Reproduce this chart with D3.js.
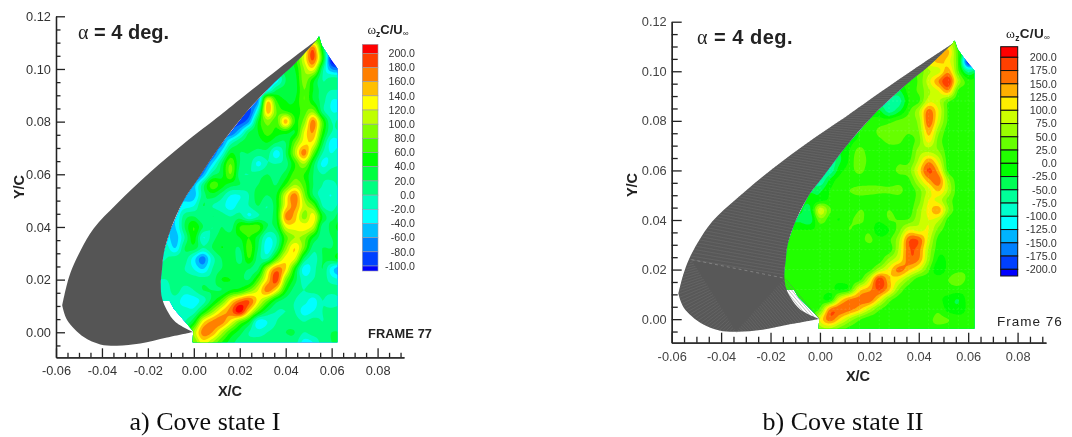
<!DOCTYPE html>
<html><head><meta charset="utf-8">
<script src="https://cdn.jsdelivr.net/npm/d3@7"></script>
<style>
html,body{margin:0;padding:0;background:#fff}
svg{display:block}
</style></head><body>
<svg id="c" width="1072" height="437" font-family="Liberation Sans"></svg>
<script>
// ---- colour levels
const levelsA = [-100,-80,-60,-40,-20,0,20,40,60,80,100,120,140,160,180,200];
const colorsA = ["#0000ff","#0040ff","#0080ff","#00bfff","#00ffff","#00ffbf","#00ff80","#00ff40","#00ff00","#40ff00","#80ff00","#bfff00","#ffff00","#ffbf00","#ff8000","#ff4000","#ff0000"];
const levelsB = [-200,-175,-150,-125,-100,-75,-50,-25,0,25,50,75,100,125,150,175,200];
const colorsB = ["#0000ff","#0040ff","#0080ff","#00b4ff","#00ffff","#00ffcc","#00ff99","#00ff55","#00ff00","#22ff00","#66ff00","#99ff00","#ccff00","#ffee00","#ffb000","#ff7000","#ff4000","#ff0000"];
// ---- axis ticks
const majorX = [-0.06,-0.04,-0.02,0,0.02,0.04,0.06,0.08];
const minorX = [-0.055,-0.05,-0.045,-0.035,-0.03,-0.025,-0.015,-0.01,-0.005,0.005,0.01,0.015,0.025,0.03,0.035,0.045,0.05,0.055,0.065,0.07,0.075,0.085,0.09];
const majorY = [0,0.02,0.04,0.06,0.08,0.10,0.12];
const minorY = [-0.005,0.005,0.01,0.015,0.025,0.03,0.035,0.045,0.05,0.055,0.065,0.07,0.075,0.085,0.09,0.095,0.105,0.11,0.115];
// ---- geometry: [X/C, Y/C]
const upperSurface = [[0.0536,0.1111],[0.0367,0.0999],[0.0193,0.0879],[0.0115,0.0824],[-0.0044,0.0716],[-0.0189,0.0609],[-0.0334,0.0489],[-0.0436,0.0394],[-0.0493,0.0311],[-0.0530,0.0242],[-0.0553,0.0180],[-0.0573,0.0103]];
const lowerSurface = [[-0.0573,0.0103],[-0.0551,0.0046],[-0.0479,-0.0018],[-0.0407,-0.0046],[-0.0334,-0.0051],[-0.0233,-0.0043],[-0.0117,-0.0020],[-0.0003,0.0001]];
const coveSurface = [[-0.0003,0.0001],[-0.0080,0.0039],[-0.0117,0.0084],[-0.0138,0.0128],[-0.0144,0.0180],[-0.0138,0.0242],[-0.0131,0.0299],[-0.0102,0.0387],[-0.0044,0.0501],[0.0014,0.0577],[0.0108,0.0700],[0.0224,0.0831],[0.0354,0.0951],[0.0441,0.1021],[0.0536,0.1111]];
const fieldOutline = [[0.0536,0.1111],[0.0441,0.1021],[0.0354,0.0951],[0.0224,0.0831],[0.0108,0.0700],[0.0014,0.0577],[-0.0044,0.0501],[-0.0102,0.0387],[-0.0131,0.0299],[-0.0138,0.0242],[-0.0144,0.0180],[-0.0145,0.0120],[-0.0105,0.0119],[-0.0088,0.0090],[-0.0044,0.0046],[-0.0003,0.0005],[-0.0005,-0.0038],[0.0625,-0.0038],[0.0625,0.1003],[0.0585,0.1052],[0.0557,0.1090],[0.0545,0.1125]];
// ---- vorticity fields, one row per Y/C, one column per X/C
const gridX = [-0.016,-0.012,-0.008,-0.004,0,0.004,0.008,0.012,0.016,0.02,0.024,0.028,0.032,0.036,0.04,0.044,0.048,0.052,0.056,0.06,0.064];
const gridY = [0.112,0.108,0.104,0.1,0.096,0.092,0.088,0.084,0.08,0.076,0.072,0.068,0.064,0.06,0.056,0.052,0.048,0.044,0.04,0.036,0.032,0.028,0.024,0.02,0.016,0.012,0.008,0.004,0,-0.004];
const fieldA = [
[20,20,20,20,20,20,20,20,20,20,20,20,20,20,20,30,40,60,50,20,20],
[20,20,20,20,20,20,20,20,20,20,20,20,20,20,20,40,100,170,40,-50,-60],
[20,20,20,20,20,20,20,20,20,20,20,20,20,20,20,50,120,185,60,-110,-120],
[20,20,20,20,20,20,20,20,20,20,20,20,20,20,30,40,100,130,10,-60,-70],
[-30,-30,-30,-30,-30,-30,-30,-30,-30,-30,-30,-30,-30,-30,20,30,90,50,0,10,10],
[-30,-30,-30,-30,-30,-30,-30,-30,-30,-30,-30,-30,-30,20,30,30,80,40,10,0,0],
[-60,-60,-60,-60,-60,-60,-60,-60,-60,-60,-60,-60,130,60,40,40,80,40,10,-20,-20],
[-80,-80,-80,-80,-80,-80,-80,-80,-80,-80,-90,-10,150,80,60,50,70,90,10,-20,-20],
[-80,-80,-80,-80,-80,-80,-80,-80,-80,-90,-60,40,90,70,150,60,90,170,70,0,10],
[-60,-60,-60,-60,-60,-60,-60,-60,-80,-40,20,40,70,50,50,40,120,160,60,0,0],
[-50,-50,-50,-50,-50,-50,-50,-70,-10,20,30,30,40,20,20,80,130,130,30,-30,-20],
[-90,-90,-90,-90,-90,-90,-80,-30,40,20,20,10,10,-30,20,100,170,80,0,-20,0],
[-100,-100,-100,-100,-100,-90,-40,20,80,20,10,-25,0,0,10,60,100,30,-25,-10,0],
[-100,-100,-100,-100,-110,-60,10,30,80,10,0,10,20,10,30,70,60,20,0,10,10],
[-50,-50,-50,-60,-50,10,70,50,30,20,10,20,30,20,60,100,70,20,0,-10,10],
[-40,-40,-40,-50,-50,10,30,10,-20,-20,0,30,20,40,120,170,90,20,-10,-20,0],
[-40,-40,-40,-30,-20,20,0,-10,-30,-10,0,20,0,40,130,165,110,80,0,-10,10],
[-20,-20,-40,10,20,0,20,10,0,10,-20,0,10,40,165,150,90,130,40,10,40],
[-30,-30,-40,20,60,20,0,20,10,60,70,70,20,30,120,130,130,110,10,30,50],
[-30,-30,-50,0,50,-20,10,30,30,40,60,30,-20,0,70,100,90,40,10,20,30],
[-10,-10,-40,20,30,0,20,40,30,20,70,20,-30,10,90,140,80,10,20,20,30],
[-10,0,10,10,-30,-70,-10,20,40,10,60,10,0,70,130,120,20,-10,20,30,50],
[10,10,10,0,-20,-40,0,20,30,30,20,20,110,170,140,50,-30,-10,20,-30,-60],
[0,0,10,10,10,10,10,40,40,30,20,70,140,190,90,30,-10,0,10,-10,-20],
[-10,-10,10,-10,0,20,20,20,40,50,80,120,170,130,50,10,0,10,10,10,10],
[-10,-10,-10,-30,-30,-10,30,70,130,170,180,130,80,30,10,0,-10,-30,0,-20,0],
[0,0,-10,-10,-10,40,90,140,170,210,140,70,20,0,0,0,-30,-20,0,10,10],
[0,0,0,0,40,130,165,170,130,80,40,-30,-20,0,10,10,0,10,0,10,10],
[40,40,40,40,100,170,160,110,60,30,0,-10,0,10,20,20,0,10,10,20,20],
[80,80,80,80,80,130,100,60,30,10,10,10,10,10,10,10,-30,-20,10,20,20]
];
const fieldB = [
[10,10,10,10,10,10,10,10,10,10,10,10,10,10,10,10,10,80,20,10,10],
[10,10,10,10,10,10,10,10,10,10,10,10,10,10,10,10,120,130,20,-60,-60],
[10,10,10,10,10,10,10,10,10,10,10,10,10,10,10,100,130,110,20,-200,-160],
[10,10,10,10,10,10,10,10,10,10,10,10,10,10,30,70,90,140,30,-60,-20],
[10,10,10,10,10,10,10,10,10,10,10,10,10,10,30,90,150,195,70,10,10],
[-30,-30,-30,-30,-30,-30,-30,-30,-30,-30,-30,-30,-30,10,30,70,100,140,20,10,10],
[-60,-60,-60,-60,-60,-60,-60,-60,-60,-60,-60,-60,-60,0,20,90,80,30,10,10,10],
[-20,-20,-20,-20,-20,-20,-20,-20,-20,-20,-20,-60,-30,20,70,160,100,20,10,10,10],
[-10,-10,-10,-10,-10,-10,-10,-10,-10,5,10,15,30,40,60,170,90,20,10,10,10],
[-10,-10,-10,-10,-10,-10,-10,-10,0,10,30,35,40,30,50,140,60,10,10,20,10],
[-30,-30,-30,-30,-30,-30,-30,-10,5,10,20,30,30,15,40,110,40,10,10,10,10],
[-50,-50,-50,-50,-50,-50,-25,0,35,10,10,15,15,10,60,70,50,10,10,10,10],
[-75,-75,-75,-75,-75,-75,-30,5,45,15,10,10,20,20,80,140,90,10,10,15,10],
[-85,-85,-85,-85,-85,-70,-10,10,35,10,10,15,30,40,110,180,130,15,10,10,10],
[-70,-70,-70,-70,-75,-20,10,5,10,10,15,10,15,20,80,140,165,60,10,10,10],
[-30,-30,-30,-30,-30,0,10,25,35,35,30,30,35,10,40,90,130,70,10,15,10],
[-20,-20,-20,-20,-10,5,10,10,15,10,10,10,10,10,40,100,90,40,10,10,15],
[-20,-20,-20,-30,90,30,5,10,25,20,15,25,15,10,60,110,140,50,10,10,10],
[-30,-30,-30,-40,40,10,0,20,30,15,5,25,25,30,70,100,80,15,10,15,10],
[0,0,0,0,5,10,10,25,15,20,-20,0,40,100,90,100,40,10,10,15,10],
[10,10,10,10,10,10,10,10,15,30,10,20,70,170,170,90,15,10,10,10,10],
[10,10,10,10,10,5,10,15,10,10,15,10,80,170,160,70,10,10,5,10,10],
[10,10,10,10,5,15,10,10,5,5,10,60,100,165,150,60,-5,5,10,5,10],
[10,10,10,10,10,10,20,15,10,15,70,110,160,130,90,30,-20,10,20,20,10],
[10,10,10,10,10,10,10,15,15,90,190,130,100,50,10,10,15,25,35,20,10],
[10,10,10,10,20,10,-5,15,110,140,180,130,50,10,15,10,10,15,15,10,10],
[10,10,10,10,10,-5,100,150,160,170,110,40,10,10,10,10,5,-10,-25,10,10],
[10,10,10,10,30,150,170,160,130,80,30,10,10,15,10,10,20,-10,-15,5,10],
[10,10,10,10,100,165,120,70,30,10,10,10,10,10,10,20,30,25,10,10,10],
[10,10,10,10,60,70,40,15,10,15,15,10,10,10,10,20,20,15,10,10,10]
];
const hatchX = [0,0.004,0.012,0.016,0.024,0.028,0.036,0.044,0.052,0.056,0.06];
const hatchY = [0.004,0.012,0.02,0.028,0.036,0.044,0.052,0.06,0.068,0.076,0.088];
const panelA = {xr:[56,404], yr:[357.3,16.3], major:9, minor:4.5, labelFill:"#333",
  field:fieldA, levels:levelsA, colors:colorsA,
  bar:{x:362.3,w:15.7,y0:44.3,y1:271,top:53.3,bot:266,labelX:415,fs:10.6,stroke:"#9a9aa8",sw:.6},
  barTitle:{x:388,y:34,fs:13,ls:0}, alpha:{x:78,y:39,fs:20,ls:0}, frame:{t:"FRAME 77",x:368,y:338,fs:12.8,ls:.1,bold:true},
  xTitle:{x:230,y:396}, yTitle:{x:19,y:187}, caption:{t:"a) Cove state I",x:205,y:430,fs:26}, mesh:false, blur:.5};
const panelB = {xr:[671.7,1046], yr:[342.7,21.7], major:10, minor:6, labelFill:"#444",
  field:fieldB, levels:levelsB, colors:colorsB,
  bar:{x:1000.7,w:17,y0:46.7,y1:276,top:57.3,bot:269.3,labelX:1056.7,fs:10.8,stroke:"#111",sw:1},
  barTitle:{x:1028,y:38,fs:13.5,ls:.3}, alpha:{x:697,y:44,fs:20,ls:.5}, frame:{t:"Frame 76",x:997,y:326,fs:13.5,ls:1,bold:false},
  xTitle:{x:858,y:381}, yTitle:{x:632,y:185}, caption:{t:"b) Cove state II",x:843,y:430,fs:26}, mesh:true, blur:.7};

const svg = d3.select("#c");
const defs = svg.append("defs");
const fmt = v => d3.format(".2f")(v).replace("\u2212","-");

function sample(poly,n){ // evenly spaced points along a polyline
  const seg = d3.pairs(poly).map(([a,b])=>Math.hypot(b[0]-a[0],b[1]-a[1]));
  const tot = d3.sum(seg);
  return d3.range(n).map(k=>{
    let d = tot*k/(n-1), i=0;
    while(i<seg.length-1 && d>seg[i]){d-=seg[i];i++;}
    const t=Math.min(1,d/seg[i]);
    return [poly[i][0]+(poly[i+1][0]-poly[i][0])*t, poly[i][1]+(poly[i+1][1]-poly[i][1])*t];
  });
}
function cr(p0,p1,p2,p3,t){return 0.5*((2*p1)+(-p0+p2)*t+(2*p0-5*p1+4*p2-p3)*t*t+(-p0+3*p1-3*p2+p3)*t*t*t);}
function refine(rows,f){ // smooth contouring surface through the read grid values
  const ny=rows.length,nx=rows[0].length,W=(nx-1)*f+1,H=(ny-1)*f+1,out=new Float64Array(W*H);
  const g=(j,i)=>rows[Math.max(0,Math.min(ny-1,j))][Math.max(0,Math.min(nx-1,i))];
  for(let y=0;y<H;y++){const j=Math.min(Math.floor(y/f),ny-2),ty=y/f-j;
    for(let x=0;x<W;x++){const i=Math.min(Math.floor(x/f),nx-2),tx=x/f-i;
      const c=[-1,0,1,2].map(d=>cr(g(j+d,i-1),g(j+d,i),g(j+d,i+1),g(j+d,i+2),tx));
      out[y*W+x]=cr(c[0],c[1],c[2],c[3],ty);}}
  return {out,W,H};
}

function draw(p,idx){
  const x=d3.scaleLinear().domain([-0.06,0.0915]).range(p.xr);
  const y=d3.scaleLinear().domain([-0.0095,0.12]).range(p.yr);
  defs.append("filter").attr("id","soft"+idx).attr("x","-5%").attr("y","-5%").attr("width","110%").attr("height","110%")
    .append("feGaussianBlur").attr("stdDeviation",p.blur);
  const root=svg.append("g").attr("filter",`url(#soft${idx})`);
  const pt=d3.line().x(d=>x(d[0])).y(d=>y(d[1]));
  defs.append("clipPath").attr("id","fieldClip"+idx).append("path").attr("d",pt(fieldOutline)+"Z");

  // contour bands
  const f=6,{out,W,H}=refine(p.field,f);
  const gx=d3.scaleLinear().domain([0,W-1]).range([gridX[0],gridX[gridX.length-1]]);
  const gy=d3.scaleLinear().domain([0,H-1]).range([gridY[0],gridY[gridY.length-1]]);
  const proj=d3.geoTransform({point(a,b){this.stream.point(x(gx(a-.5)),y(gy(b-.5)));}});
  const path=d3.geoPath(proj);
  const fg=root.append("g").attr("clip-path",`url(#fieldClip${idx})`);
  fg.append("rect").attr("x",x(gridX[0])).attr("y",y(gridY[0])).attr("width",x(gridX[20])-x(gridX[0])).attr("height",y(gridY[29])-y(gridY[0])).attr("fill",p.colors[0]);
  const cs=d3.contours().size([W,H]).thresholds(p.levels)(out);
  fg.selectAll("path.b").data(cs).join("path").attr("class","b").attr("d",path).attr("fill",(d,i)=>p.colors[i+1]);
  if(p.mesh){
    const h=fg.append("g").attr("stroke","#fff").attr("stroke-opacity",.14).attr("stroke-width",.8).attr("stroke-dasharray","2 2");
    h.selectAll("line.v").data(hatchX).join("line").attr("class","v").attr("x1",d=>x(d)).attr("x2",d=>x(d)).attr("y1",y(0.1)).attr("y2",y(-0.004));
    h.selectAll("line.h").data(hatchY).join("line").attr("class","h").attr("y1",d=>y(d)).attr("y2",d=>y(d)).attr("x1",x(-0.016)).attr("x2",x(0.063));
  }

  // airfoil
  const smooth=d3.line().x(d=>x(d[0])).y(d=>y(d[1])).curve(d3.curveCatmullRom.alpha(.5));
  const outline="M"+[upperSurface,lowerSurface,coveSurface].map(s=>smooth(s).slice(1)).join("L")+"Z";
  root.append("path").attr("d",outline).attr("fill",p.mesh?"#585858":"#555");
  if(p.mesh){
    const meshG=root.append("g").attr("stroke","#727272").attr("stroke-width",.45).attr("fill","none");
    const link=(a,b)=>a.forEach((q,i)=>meshG.append("line").attr("x1",x(q[0])).attr("y1",y(q[1])).attr("x2",x(b[i][0])).attr("y2",y(b[i][1])));
    link(sample(upperSurface.slice(0,10),95),sample(coveSurface.slice(4).reverse(),95));
    const fanA=[[-0.0520,0.0240],[-0.0553,0.0180],[-0.0573,0.0103],[-0.0551,0.0046],[-0.0479,-0.0018],[-0.0407,-0.0046],[-0.0340,-0.0051]];
    link(sample(fanA,34),sample([[-0.0520,0.0240],[-0.0340,-0.0051]],34));
    link(sample(lowerSurface.slice(4),30),sample([[-0.0340,-0.0051],[-0.0142,0.0165]],30));
    root.append("line").attr("x1",x(-0.052)).attr("y1",y(0.024)).attr("x2",x(-0.0142)).attr("y2",y(0.0165))
      .attr("stroke","#8a8a8a").attr("stroke-width",.8).attr("stroke-dasharray","3 3");
  }

  // axes
  const style=g=>{g.selectAll("path,line").attr("stroke","#222").attr("stroke-width",1.3);
    g.selectAll("text").attr("font-size",12.8).attr("fill",p.labelFill).attr("font-family","Liberation Sans");};
  root.append("g").attr("transform",`translate(0,${p.yr[0]})`)
    .call(d3.axisBottom(x).tickValues(majorX).tickFormat(fmt).tickSizeInner(-p.major).tickSizeOuter(0).tickPadding(9)).call(style);
  root.append("g").attr("transform",`translate(0,${p.yr[0]})`)
    .call(d3.axisBottom(x).tickValues(minorX).tickFormat("").tickSizeInner(-p.minor).tickSizeOuter(0)).call(style);
  root.append("g").attr("transform",`translate(${p.xr[0]},0)`)
    .call(d3.axisLeft(y).tickValues(majorY).tickFormat(fmt).tickSizeInner(-p.major).tickSizeOuter(0).tickPadding(5)).call(style);
  root.append("g").attr("transform",`translate(${p.xr[0]},0)`)
    .call(d3.axisLeft(y).tickValues(minorY).tickFormat("").tickSizeInner(-p.minor).tickSizeOuter(0)).call(style);

  root.append("text").attr("x",p.xTitle.x).attr("y",p.xTitle.y).attr("text-anchor","middle").attr("font-weight","bold").attr("font-size",14.5).attr("fill","#222").text("X/C");
  root.append("text").attr("transform",`translate(${p.yTitle.x},${p.yTitle.y}) rotate(-90)`).attr("text-anchor","middle").attr("dominant-baseline","central").attr("font-weight","bold").attr("font-size",14.5).attr("fill","#222").text("Y/C");

  // alpha note
  const a=root.append("text").attr("x",p.alpha.x).attr("y",p.alpha.y).attr("font-size",p.alpha.fs).attr("fill","#222").attr("letter-spacing",p.alpha.ls);
  a.append("tspan").attr("font-family","Liberation Serif").text("α");
  a.append("tspan").attr("font-weight","bold").text(" = 4 deg.");

  // colour bar
  const b=p.bar, ly=d3.scalePoint().domain(p.levels.slice().reverse()).range([b.top,b.bot]);
  const edges=[b.y0,...p.levels.slice().reverse().map(l=>ly(l)),b.y1];
  const lg=root.append("g");
  lg.selectAll("rect").data(d3.pairs(edges)).join("rect").attr("x",b.x).attr("width",b.w)
    .attr("y",d=>d[0]).attr("height",d=>d[1]-d[0]).attr("fill",(d,i)=>p.colors[p.colors.length-1-i])
    .attr("stroke",b.stroke).attr("stroke-width",b.sw);
  lg.selectAll("text").data(p.levels).join("text").attr("x",b.labelX).attr("y",d=>ly(d)).attr("dy","0.35em").attr("text-anchor","end")
    .attr("font-size",b.fs).attr("fill","#333").text(d=>d3.format(".1f")(d).replace("\u2212","-"));
  const t=root.append("text").attr("x",p.barTitle.x).attr("y",p.barTitle.y).attr("text-anchor","middle").attr("fill","#222").attr("font-size",p.barTitle.fs).attr("letter-spacing",p.barTitle.ls);
  t.append("tspan").attr("font-family","Liberation Serif").attr("font-size",p.barTitle.fs).text("ω");
  t.append("tspan").attr("font-size",8.5).attr("font-weight","bold").attr("dy",3).text("z");
  t.append("tspan").attr("font-weight","bold").attr("dy",-3).text("C/U");
  t.append("tspan").attr("font-size",8).attr("dy",2).text("∞");

  // frame tag and caption
  root.append("text").attr("x",p.frame.x).attr("y",p.frame.y).attr("font-size",p.frame.fs).attr("letter-spacing",p.frame.ls)
    .attr("font-weight",p.frame.bold?"bold":"normal").attr("fill","#222").text(p.frame.t);
  root.append("text").attr("x",p.caption.x).attr("y",p.caption.y).attr("text-anchor","middle")
    .attr("font-family","Liberation Serif").attr("font-size",p.caption.fs).attr("fill","#111").text(p.caption.t);
}
draw(panelA,0);
draw(panelB,1);
</script>
</body></html>
